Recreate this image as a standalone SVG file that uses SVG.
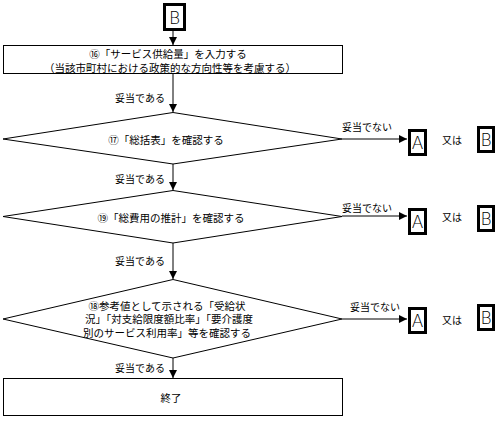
<svg xmlns="http://www.w3.org/2000/svg" width="503" height="421" viewBox="0 0 503 421">
<style>
.shape{fill:#fff;stroke:#000;stroke-width:1}
.conn{fill:none;stroke:#000;stroke-width:1}
.term{fill:#fff;stroke:#000;stroke-width:3}
.t{font-family:"Noto Sans CJK JP","Noto Sans",sans-serif;font-size:10.5px;fill:#000;text-anchor:middle;dominant-baseline:central}
.lbl{font-family:"Noto Sans CJK JP","Noto Sans",sans-serif;font-size:10px;fill:#000;dominant-baseline:central}
.big{font-family:"DejaVu Sans","Liberation Sans",sans-serif;font-weight:200;font-size:17px;fill:#000;text-anchor:middle;dominant-baseline:central}
</style>
<defs>
<marker id="ah" viewBox="0 0 8 8" refX="8" refY="4" markerWidth="8" markerHeight="8" markerUnits="userSpaceOnUse" orient="auto">
<path d="M0,0 L8,4 L0,8 Z" fill="#000"/>
</marker>
</defs>
<rect width="503" height="421" fill="#fff"/>
<g id="connectors">
<line class="conn" x1="173" y1="30" x2="173" y2="45" marker-end="url(#ah)"/>
<line class="conn" x1="173" y1="73" x2="173" y2="112" marker-end="url(#ah)"/>
<line class="conn" x1="173" y1="164" x2="173" y2="190" marker-end="url(#ah)"/>
<line class="conn" x1="173" y1="243" x2="173" y2="279" marker-end="url(#ah)"/>
<line class="conn" x1="173" y1="358" x2="173" y2="378" marker-end="url(#ah)"/>
<line class="conn" x1="342" y1="139" x2="407" y2="139" marker-end="url(#ah)"/>
<line class="conn" x1="342" y1="216" x2="407" y2="216" marker-end="url(#ah)"/>
<line class="conn" x1="342" y1="319" x2="407" y2="319" marker-end="url(#ah)"/>
<text class="lbl" x="165" y="97" text-anchor="end">妥当である</text>
<text class="lbl" x="165" y="178" text-anchor="end">妥当である</text>
<text class="lbl" x="165" y="260" text-anchor="end">妥当である</text>
<text class="lbl" x="165" y="367" text-anchor="end">妥当である</text>
<text class="lbl" x="367" y="126" text-anchor="middle">妥当でない</text>
<text class="lbl" x="367" y="207" text-anchor="middle">妥当でない</text>
<text class="lbl" x="375" y="306" text-anchor="middle">妥当でない</text>
</g>
<g id="startB">
<rect class="term" x="164.5" y="4.5" width="20" height="25"/>
<text class="big" x="174.5" y="17.5">B</text>
</g>
<g id="step16">
<rect class="shape" x="3.5" y="45.5" width="339" height="28"/>
<text class="t" x="168" y="53.5">⑯「サービス供給量」を入力する</text>
<text class="t" x="170" y="67">（当該市町村における政策的な方向性等を考慮する）</text>
</g>
<g id="step17">
<polygon class="shape" points="173,112.5 342,139 173,164 3,139"/>
<text class="t" x="166" y="139">⑰「総括表」を確認する</text>
</g>
<g id="step19">
<polygon class="shape" points="173,190.5 342,216.5 173,243 3,216.5"/>
<text class="t" x="171" y="217">⑲「総費用の推計」を確認する</text>
</g>
<g id="step18">
<polygon class="shape" points="173,279.5 342,319 173,358 3,319"/>
<text class="t" x="167" y="305">⑱参考値として示される「受給状</text>
<text class="t" x="169" y="318.5">況」「対支給限度額比率」「要介護度</text>
<text class="t" x="167" y="332">別のサービス利用率」等を確認する</text>
</g>
<g id="end">
<rect class="shape" x="3.5" y="378.5" width="339" height="37"/>
<text class="t" x="171" y="397">終了</text>
</g>
<g id="out17">
<rect class="term" x="409.5" y="130.5" width="16" height="24"/>
<text class="big" x="417.5" y="142.5">A</text>
<text class="lbl" x="452" y="139" text-anchor="middle">又は</text>
<rect class="term" x="478.5" y="127.5" width="15" height="24"/>
<text class="big" x="486" y="139.5">B</text>
</g>
<g id="out19">
<rect class="term" x="409.5" y="209.5" width="16" height="24"/>
<text class="big" x="417.5" y="221.5">A</text>
<text class="lbl" x="452" y="216" text-anchor="middle">又は</text>
<rect class="term" x="478.5" y="206.5" width="15" height="24"/>
<text class="big" x="486" y="218.5">B</text>
</g>
<g id="out18">
<rect class="term" x="409.5" y="308.5" width="16" height="24"/>
<text class="big" x="417.5" y="320.5">A</text>
<text class="lbl" x="452" y="319" text-anchor="middle">又は</text>
<rect class="term" x="478.5" y="305.5" width="15" height="24"/>
<text class="big" x="486" y="317.5">B</text>
</g>
</svg>
